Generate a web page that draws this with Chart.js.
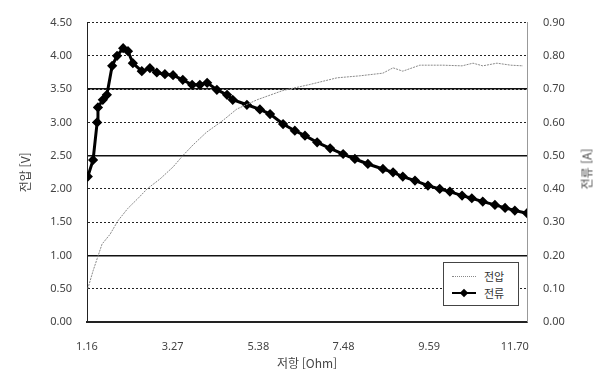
<!DOCTYPE html>
<html lang="ko">
<head>
    <meta charset="UTF-8">
    <title>전압 / 전류 - 저항</title>
    <script src="https://cdn.jsdelivr.net/npm/chart.js"></script>
    <style>
        body {
            margin: 0;
            background: #fff;
        }

        .wrap {
            position: relative;
            width: 603px;
            height: 372px;
        }

        .legend {
            position: absolute;
            left: 443px;
            top: 262px;
            width: 74px;
            height: 42px;
            border: 1px solid #444;
            background: #fff;
            font-family: "Noto Sans CJK KR", sans-serif;
            font-size: 11px;
            color: #333;
        }

        .legend .row {
            position: absolute;
            left: 0;
            height: 16px;
            line-height: 16px;
        }

        .legend .sample {
            position: absolute;
            left: 8px;
            top: 8px;
            width: 24px;
        }

        .legend .label {
            position: absolute;
            left: 40px;
            top: 0;
            white-space: nowrap;
        }

        .right-title {
            position: absolute;
            left: 586px;
            top: 169px;
            transform: translate(-50%, -50%) rotate(-90deg);
            font-family: "Noto Sans CJK KR", sans-serif;
            font-size: 12px;
            color: #444;
            white-space: nowrap;
        }
    </style>
</head>
<body>
    <div class="wrap">
        <canvas id="chart" width="603" height="372"></canvas>
        <div class="right-title">전류 [A]</div>
        <div class="legend">
            <div class="row" style="top: 5px;">
                <div class="sample" style="border-top: 1px dotted #888;"></div>
                <div class="label">전압</div>
            </div>
            <div class="row" style="top: 22px;">
                <div class="sample" style="border-top: 2px solid #000; top: 7px;"></div>
                <div class="sample" style="left: 17px; top: 5px; width: 6px; height: 6px; background: #000; transform: rotate(45deg);"></div>
                <div class="label">전류</div>
            </div>
        </div>
    </div>

    <script>
        // resistance [Ohm] / voltage [V]
        const voltageOhm = [1.18, 1.31, 1.53, 1.73, 1.92, 2.17, 2.42, 2.64, 2.96, 3.28, 3.52, 3.77, 4.10, 4.51, 4.85, 5.35, 5.99, 6.65, 7.32, 7.88, 8.45, 8.70, 8.94, 9.36, 9.93, 10.40, 10.67, 10.91, 11.26, 11.60, 11.90];
        const voltage = [0.50, 0.77, 1.17, 1.32, 1.52, 1.71, 1.86, 2.00, 2.15, 2.33, 2.50, 2.66, 2.85, 3.03, 3.20, 3.34, 3.48, 3.57, 3.67, 3.70, 3.74, 3.82, 3.77, 3.86, 3.86, 3.85, 3.89, 3.85, 3.89, 3.86, 3.85];

        // resistance [Ohm] / current [A]
        const currentOhm = [1.18, 1.31, 1.41, 1.43, 1.55, 1.65, 1.78, 1.90, 2.05, 2.17, 2.29, 2.51, 2.71, 2.88, 3.08, 3.28, 3.52, 3.75, 3.94, 4.12, 4.36, 4.61, 4.75, 5.10, 5.42, 5.67, 5.99, 6.28, 6.53, 6.83, 7.15, 7.47, 7.76, 8.08, 8.45, 8.70, 8.94, 9.24, 9.56, 9.85, 10.10, 10.40, 10.64, 10.91, 11.21, 11.46, 11.70, 12.00];
        const current = [0.437, 0.487, 0.600, 0.645, 0.668, 0.683, 0.770, 0.800, 0.823, 0.814, 0.778, 0.754, 0.763, 0.750, 0.745, 0.742, 0.728, 0.713, 0.713, 0.719, 0.698, 0.683, 0.668, 0.653, 0.639, 0.625, 0.595, 0.575, 0.560, 0.540, 0.522, 0.505, 0.490, 0.475, 0.460, 0.450, 0.437, 0.425, 0.410, 0.400, 0.392, 0.380, 0.372, 0.362, 0.352, 0.343, 0.335, 0.327];

        const xTicks = [1.16, 3.27, 5.38, 7.48, 9.59, 11.70];
        const solidAmps = [0.2, 0.5, 0.7];

        const tickFont = { family: 'Noto Sans', size: 11 };
        const titleFont = { family: 'Noto Sans CJK KR', size: 12 };

        const ctx = document.getElementById('chart').getContext('2d');

        const chart = new Chart(ctx, {
            type: 'line',
            data: {
                datasets: [
                    {
                        label: '전압',
                        data: voltageOhm.map((r, i) => ({ x: r, y: voltage[i] })),
                        yAxisID: 'yV',
                        borderColor: '#8a8a8a',
                        borderWidth: 1,
                        borderDash: [2, 1],
                        pointRadius: 0,
                        fill: false,
                    },
                    {
                        label: '전류',
                        data: currentOhm.map((r, i) => ({ x: r, y: current[i] })),
                        yAxisID: 'yA',
                        borderColor: '#000',
                        backgroundColor: '#000',
                        borderWidth: 3,
                        pointStyle: 'rectRot',
                        pointRadius: 3,
                        fill: false,
                    },
                ],
            },
            options: {
                responsive: false,
                animation: false,
                layout: { autoPadding: false, padding: { top: 19, left: 0, right: 0, bottom: 0 } },
                plugins: {
                    legend: { display: false },
                    tooltip: { enabled: false },
                },
                scales: {
                    x: {
                        type: 'linear',
                        min: 1.16,
                        max: 12.0,
                        afterBuildTicks: (axis) => {
                            axis.ticks = xTicks.map(v => ({ value: v }));
                        },
                        afterFit: (axis) => { axis.height = 50; },
                        grid: { display: false },
                        border: { display: true, color: '#222', width: 2, dash: [2, 2] },
                        ticks: {
                            color: '#444',
                            font: tickFont,
                            padding: 10,
                            maxRotation: 0,
                            autoSkip: false,
                            callback: (v) => Number(v).toFixed(2),
                        },
                        title: {
                            display: true,
                            text: '저항 [Ohm]',
                            color: '#444',
                            font: titleFont,
                            padding: { top: 0, bottom: 1 },
                        },
                    },
                    yV: {
                        position: 'left',
                        min: 0,
                        max: 4.5,
                        afterBuildTicks: (axis) => {
                            axis.ticks = [0, 0.5, 1, 1.5, 2, 2.5, 3, 3.5, 4, 4.5].map(v => ({ value: v }));
                        },
                        afterFit: (axis) => { axis.width = 87; },
                        grid: { color: '#222', lineWidth: 1, drawTicks: false },
                        border: { display: true, color: '#222', width: 1, dash: [2, 2] },
                        ticks: {
                            color: '#444',
                            font: tickFont,
                            padding: 15,
                            callback: (v) => Number(v).toFixed(2),
                        },
                        title: {
                            display: true,
                            text: '전압 [V]',
                            color: '#444',
                            font: titleFont,
                            padding: { top: 18, bottom: 0 },
                        },
                    },
                    yA: {
                        position: 'right',
                        min: 0,
                        max: 0.9,
                        afterBuildTicks: (axis) => {
                            axis.ticks = [0, 0.1, 0.2, 0.3, 0.4, 0.5, 0.6, 0.7, 0.8, 0.9].map(v => ({ value: v }));
                        },
                        afterFit: (axis) => { axis.width = 76; },
                        grid: {
                            drawTicks: false,
                            lineWidth: 1.5,
                            color: (c) => solidAmps.some(a => Math.abs(a - c.tick.value) < 1e-6) ? '#111' : 'rgba(0,0,0,0)',
                        },
                        border: { display: true, color: '#999', width: 1 },
                        ticks: {
                            color: '#444',
                            font: tickFont,
                            padding: 16,
                            callback: (v) => Number(v).toFixed(2),
                        },
                    },
                },
            },
        });
    </script>
</body>
</html>
